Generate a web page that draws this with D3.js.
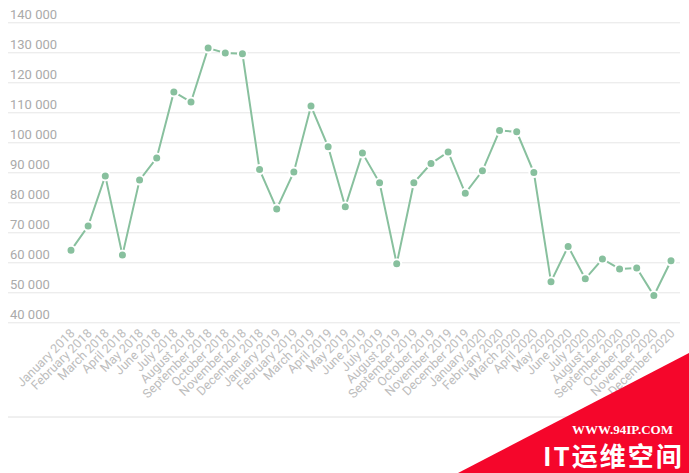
<!DOCTYPE html>
<html>
<head>
<meta charset="utf-8">
<script src="https://cdn.jsdelivr.net/npm/d3@7"></script>
<style>
  html, body { margin: 0; padding: 0; background: #fff; }
  svg { display: block; font-family: Roboto, "Noto Sans", sans-serif; }
</style>
</head>
<body>
<svg id="chart" width="689" height="473"></svg>
<script>
const months = ["January 2018","February 2018","March 2018","April 2018","May 2018","June 2018","July 2018","August 2018","September 2018","October 2018","November 2018","December 2018",
  "January 2019","February 2019","March 2019","April 2019","May 2019","June 2019","July 2019","August 2019","September 2019","October 2019","November 2019","December 2019",
  "January 2020","February 2020","March 2020","April 2020","May 2020","June 2020","July 2020","August 2020","September 2020","October 2020","November 2020","December 2020"];
const values = [64000, 72100, 88800, 62400, 87400, 94800, 116800, 113400, 131400, 129800, 129500, 90900,
  77800, 90100, 112100, 98500, 78500, 96400, 86500, 59500, 86500, 92900, 96800, 83000,
  90500, 103900, 103500, 89900, 53500, 65300, 54500, 61100, 57800, 58100, 48900, 60500];
const yTicks = [40000, 50000, 60000, 70000, 80000, 90000, 100000, 110000, 120000, 130000, 140000];

const svg = d3.select("#chart");
const x = d3.scalePoint().domain(months).range([71, 671]);
const y = d3.scaleLinear().domain([40000, 140000]).range([322.3, 22.3]);
const fmt = v => d3.format(",")(v).replace(/,/g, " ");

// grid
const grid = svg.append("g").attr("transform", "translate(8,0)")
  .call(d3.axisRight(y).tickValues(yTicks).tickSize(672).tickFormat(""));
grid.select(".domain").remove();
grid.selectAll(".tick line").attr("stroke", "#e6e6e6").attr("stroke-width", 1);

// y labels
svg.append("g").selectAll("text").data(yTicks).join("text")
  .attr("x", 10).attr("y", d => y(d) - 3.5)
  .attr("font-size", 13).attr("fill", "#aaaaaa")
  .text(fmt);

// bottom border line
svg.append("line").attr("x1", 8).attr("x2", 680).attr("y1", 417).attr("y2", 417)
  .attr("stroke", "#e0e0e0").attr("stroke-width", 1);

// x labels
const xa = svg.append("g").attr("transform", "translate(0,322)")
  .call(d3.axisBottom(x).tickSize(0).tickPadding(0));
xa.select(".domain").remove();
xa.selectAll(".tick text")
  .attr("font-family", "Roboto, sans-serif")
  .attr("font-size", 12.5).attr("fill", "#bdbdbd")
  .attr("text-anchor", "end").attr("dy", 0).attr("y", 0)
  .attr("transform", "translate(4,12) rotate(-45)");

// line
const data = months.map((m, i) => ({ m, v: values[i] }));
svg.append("path").datum(data)
  .attr("fill", "none").attr("stroke", "#88c09e").attr("stroke-width", 2)
  .attr("d", d3.line().x(d => x(d.m)).y(d => y(d.v)));
svg.append("g").selectAll("circle").data(data).join("circle")
  .attr("cx", d => x(d.m)).attr("cy", d => y(d.v)).attr("r", 4.5)
  .attr("fill", "#88c09e").attr("stroke", "#fff").attr("stroke-width", 2);

// watermark
const wm = svg.append("g");
wm.append("polygon").attr("points", "458,473 689,353 689,473").attr("fill", "#f5062b");
wm.append("text").attr("x", 673).attr("y", 434).attr("text-anchor", "end")
  .attr("font-family", "Liberation Serif, serif").attr("font-weight", "bold")
  .attr("font-size", 13).attr("fill", "#fff").text("WWW.94IP.COM");
wm.append("text").attr("x", 543).attr("y", 466)
  .attr("font-family", "Noto Sans CJK SC, sans-serif").attr("font-weight", "bold")
  .attr("font-size", 26).attr("letter-spacing", 2).attr("fill", "#fff").text("IT运维空间");
</script>
</body>
</html>
